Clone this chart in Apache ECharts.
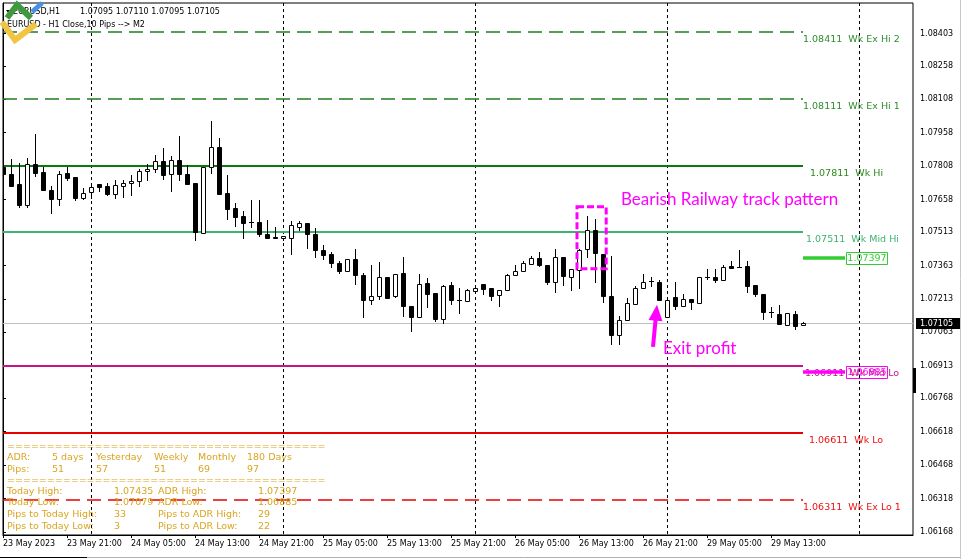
<!DOCTYPE html>
<html><head><meta charset="utf-8">
<script src="https://cdn.jsdelivr.net/npm/echarts@6/dist/echarts.min.js"></script>
<style>html,body{margin:0;padding:0;background:#fff}#c{width:962px;height:559px}</style>
</head><body><div id="c"></div>
<script>
// ---------- data ----------
const opens = [1.07806,1.07774,1.07729,1.07632,1.07818,1.07782,1.07702,1.07663,1.07778,1.07760,
1.07667,1.07692,1.07727,1.07718,1.07683,1.07718,1.07732,1.07741,1.07786,1.07795,
1.07830,1.07772,1.07835,1.07772,1.07732,1.07508,1.07804,1.07893,1.07687,1.07621,
1.07585,1.07557,1.07558,1.07505,1.07491,1.07484,1.07485,1.07537,1.07553,1.07505,
1.07433,1.07414,1.07375,1.07338,1.07391,1.07321,1.07208,1.07224,1.07311,1.07224,
1.07330,1.07181,1.07132,1.07285,1.07240,1.07123,1.07276,1.07208,1.07203,1.07249,
1.07279,1.07263,1.07230,1.07254,1.07320,1.07338,1.07369,1.07396,1.07366,1.07288,
1.07400,1.07309,1.07343,1.07438,1.07521,1.07414,1.07227,1.07051,1.07118,1.07191,
1.07260,1.07294,1.07288,1.07134,1.07221,1.07183,1.07213,1.07194,1.07309,1.07311,
1.07300,1.07361,1.07358,1.07360,1.07276,1.07236,1.07154,1.07146,1.07097,1.07146,
1.07095];
const closes = [1.07772,1.07721,1.07632,1.07818,1.07779,1.07703,1.07663,1.07774,1.07757,1.07666,
1.07688,1.07714,1.07715,1.07685,1.07723,1.07732,1.07742,1.07786,1.07795,1.07830,
1.07770,1.07835,1.07772,1.07730,1.07511,1.07804,1.07893,1.07685,1.07618,1.07578,
1.07555,1.07557,1.07502,1.07488,1.07485,1.07496,1.07544,1.07553,1.07502,1.07434,
1.07412,1.07373,1.07336,1.07391,1.07318,1.07206,1.07226,1.07311,1.07219,1.07324,
1.07179,1.07130,1.07281,1.07237,1.07121,1.07272,1.07206,1.07208,1.07251,1.07263,
1.07257,1.07228,1.07251,1.07320,1.07338,1.07375,1.07396,1.07365,1.07287,1.07400,
1.07317,1.07347,1.07433,1.07521,1.07418,1.07224,1.07049,1.07118,1.07194,1.07261,
1.07290,1.07294,1.07206,1.07209,1.07182,1.07213,1.07200,1.07311,1.07309,1.07299,
1.07356,1.07352,1.07358,1.07272,1.07233,1.07155,1.07154,1.07102,1.07148,1.07091,
1.07105];
const lows = [1.07690,1.07721,1.07623,1.07623,1.07766,1.07703,1.07596,1.07636,1.07747,1.07658,
1.07663,1.07666,1.07697,1.07681,1.07667,1.07672,1.07681,1.07720,1.07747,1.07784,
1.07751,1.07699,1.07744,1.07726,1.07475,1.07508,1.07779,1.07685,1.07573,1.07542,
1.07488,1.07535,1.07494,1.07488,1.07485,1.07478,1.07416,1.07520,1.07443,1.07403,
1.07394,1.07354,1.07329,1.07338,1.07279,1.07134,1.07192,1.07213,1.07219,1.07221,
1.07137,1.07067,1.07132,1.07175,1.07112,1.07107,1.07188,1.07149,1.07203,1.07245,
1.07235,1.07209,1.07182,1.07251,1.07320,1.07338,1.07369,1.07361,1.07279,1.07246,
1.07276,1.07254,1.07260,1.07399,1.07288,1.07197,1.07012,1.07012,1.07118,1.07191,
1.07260,1.07269,1.07206,1.07133,1.07167,1.07183,1.07167,1.07194,1.07302,1.07291,
1.07300,1.07352,1.07358,1.07242,1.07228,1.07125,1.07130,1.07102,1.07097,1.07079,
1.07095];
const highs = [1.07814,1.07841,1.07824,1.07844,1.07953,1.07804,1.07720,1.07787,1.07806,1.07760,
1.07709,1.07729,1.07727,1.07732,1.07747,1.07745,1.07769,1.07796,1.07818,1.07859,
1.07889,1.07854,1.07944,1.07814,1.07732,1.07804,1.08011,1.07935,1.07769,1.07644,
1.07608,1.07657,1.07657,1.07567,1.07537,1.07496,1.07563,1.07563,1.07553,1.07530,
1.07455,1.07423,1.07385,1.07391,1.07438,1.07331,1.07366,1.07379,1.07311,1.07324,
1.07400,1.07181,1.07326,1.07306,1.07240,1.07276,1.07291,1.07260,1.07257,1.07263,
1.07279,1.07263,1.07251,1.07326,1.07367,1.07381,1.07406,1.07423,1.07366,1.07438,
1.07400,1.07347,1.07438,1.07585,1.07571,1.07414,1.07406,1.07137,1.07219,1.07269,
1.07326,1.07311,1.07299,1.07209,1.07290,1.07236,1.07213,1.07311,1.07349,1.07347,
1.07363,1.07384,1.07433,1.07384,1.07276,1.07236,1.07176,1.07187,1.07148,1.07157,
1.07110];

const xTickIdx = [0,8,16,24,32,40,48,56,64,72,80,88,96];
const xTickLabels = ['23 May 2023','23 May 21:00','24 May 05:00','24 May 13:00','24 May 21:00','25 May 05:00',
  '25 May 13:00','25 May 21:00','26 May 05:00','26 May 13:00','26 May 21:00','29 May 05:00','29 May 13:00'];
const yTickValues = [1.08403,1.08258,1.08108,1.07958,1.07808,1.07658,1.07513,1.07363,1.07213,1.07063,
  1.06913,1.06768,1.06618,1.06468,1.06318,1.06168];
const daySeparators = [11,35,59,83,107];

const levelValues = [1.08411,1.08111,1.07811,1.07511,1.06911,1.06611,1.06311];
const levelNames = ['Wk Ex Hi 2','Wk Ex Hi 1','Wk Hi','Wk Mid Hi','Wk Mid Lo','Wk Lo','Wk Ex Lo 1'];
const adrValues = [1.07397,1.06885];
const currentPrice = 1.07105;
const axisMarker = [1.06904,1.06792];

const railBox = [71.75,1.07626,75.4,1.07348];
const railText = [77.25,1.07657];
const exitArrow = [81.25,1.06998,81.75,1.07187];
const exitText = [82.5,1.06990];

const headerLine1 = ['EURUSD,H1','1.07095 1.07110 1.07095 1.07105'];
const headerLine2 = 'EURUSD - H1 Close,10 Pips --> M2';
const panelRowsA = [
  ['ADR:','5 days','Yesterday','Weekly','Monthly','180 Days'],
  ['Pips:','51','57','51','69','97']];
const panelRowsB = [
  ['Today High:','1.07435','ADR High:','1.07397'],
  ['Today Low:','1.07079','ADR Low:','1.06885'],
  ['Pips to Today High:','33','Pips to ADR High:','29'],
  ['Pips to Today Low:','3','Pips to ADR Low:','22']];

// ---------- styles ----------
const X_MIN = 0, X_MAX = 113.75, Y_MIN = 1.061545, Y_MAX = 1.085397;
const LAST = opens.length - 1;
const levelStyles = [
  {color:'#1f7f1f',width:1.5,dash:[14,7],text:'#2e8b2e',dx:0},
  {color:'#1f7f1f',width:1.5,dash:[14,7],text:'#2e8b2e',dx:0},
  {color:'#0b7a0b',width:2,dash:null,text:'#2a8a1a',dx:7},
  {color:'#3cb371',width:2,dash:null,text:'#3cb371',dx:3},
  {color:'#c71585',width:2,dash:null,text:'#c71585',dx:2},
  {color:'#e60000',width:2,dash:null,text:'#f01010',dx:6},
  {color:'#e60000',width:1.5,dash:[14,7],text:'#f01010',dx:0}];
const adrStyles = [{color:'#32cd32'},{color:'#ff00ff'}];
const F8 = '8px "DejaVu Sans"';
const F95 = '9.5px "DejaVu Sans"';
const PINK = '#ff00ff';
const GOLD = '#daa520';

const chart = echarts.init(document.getElementById('c'), null, {renderer:'canvas'});

const graphics = [];
// window frame
graphics.push({type:'line',shape:{x1:960.5,y1:0,x2:960.5,y2:559},style:{stroke:'#c8c8c8',lineWidth:1},z:100});
graphics.push({type:'line',shape:{x1:0,y1:557.5,x2:87,y2:557.5},style:{stroke:'#000',lineWidth:1},z:100});
graphics.push({type:'line',shape:{x1:87,y1:557.5,x2:960,y2:557.5},style:{stroke:'#b0b0b0',lineWidth:1},z:100});
// header
graphics.push({type:'polygon',shape:{points:[[6,10],[12,10],[9,14]]},style:{fill:'#000'},z:100});
graphics.push({type:'text',x:13,y:12,style:{text:headerLine1[0],font:F8,fill:'#000',verticalAlign:'middle'},z:100});
graphics.push({type:'text',x:80,y:12,style:{text:headerLine1[1],font:F8,fill:'#000',verticalAlign:'middle'},z:100});
graphics.push({type:'text',x:7,y:25,style:{text:headerLine2,font:F8,fill:'#000',verticalAlign:'middle'},z:100});
// logo
graphics.push({type:'polyline',shape:{points:[[2,22],[15,40],[36,24]]},style:{stroke:'#f2c443',lineWidth:6,fill:null,lineJoin:'miter'},z:101});
graphics.push({type:'polyline',shape:{points:[[7,18],[17,5],[31,18]]},style:{stroke:'#3f9a3f',lineWidth:6,fill:null,lineJoin:'miter'},z:101});
graphics.push({type:'line',shape:{x1:32,y1:12,x2:42,y2:3},style:{stroke:'#4a90e2',lineWidth:5},z:101});
// info panel
const eq = '='.repeat(40);
graphics.push({type:'text',x:7,y:447,style:{text:eq,font:F95,fill:GOLD,verticalAlign:'middle'},z:100});
graphics.push({type:'text',x:7,y:481,style:{text:eq,font:F95,fill:GOLD,verticalAlign:'middle'},z:100});
const colA = [7,52,96,154,198,247], rowA = [458,470];
panelRowsA.forEach((r,ri)=>r.forEach((t,ci)=>graphics.push({type:'text',x:colA[ci],y:rowA[ri],
  style:{text:t,font:F95,fill:GOLD,verticalAlign:'middle'},z:100})));
const colB = [7,114,158,258], rowB = [492,503,515,527];
panelRowsB.forEach((r,ri)=>r.forEach((t,ci)=>graphics.push({type:'text',x:colB[ci],y:rowB[ri],
  style:{text:t,font:F95,fill:GOLD,verticalAlign:'middle'},z:100})));

const option = {
  animation:false,
  backgroundColor:'#fff',
  grid:{left:3,right:49,top:3,bottom:24,show:true,borderColor:'#000',borderWidth:1,backgroundColor:'transparent'},
  xAxis:{type:'value',min:X_MIN,max:X_MAX,splitLine:{show:false},
    axisLine:{show:true,lineStyle:{color:'#000',width:1}},
    axisTick:{show:true,inside:false,length:3,customValues:xTickIdx,lineStyle:{color:'#000'}},
    axisLabel:{show:true,customValues:xTickIdx,margin:5,align:'left',fontFamily:'DejaVu Sans',fontSize:8,color:'#000',
      formatter:v=>{const k=xTickIdx.indexOf(Math.round(v));return k>=0?xTickLabels[k]:'';}}},
  yAxis:{type:'value',position:'right',min:Y_MIN,max:Y_MAX,scale:true,splitLine:{show:false},
    axisLine:{show:true,lineStyle:{color:'#000',width:1}},
    axisTick:{show:true,inside:false,length:3,customValues:yTickValues,lineStyle:{color:'#000'}},
    axisLabel:{show:true,customValues:yTickValues,margin:7,fontFamily:'DejaVu Sans',fontSize:8,color:'#000',
      formatter:v=>v.toFixed(5)}},
  graphic:graphics,
  series:[
    // day separators
    {type:'custom',name:'sep',clip:true,silent:true,z:1,
     data:daySeparators.map(d=>[d,Y_MIN]),encode:{x:0,y:1},
     renderItem:(p,api)=>{const a=api.coord([api.value(0),Y_MAX]),b=api.coord([api.value(0),Y_MIN]);
       const x=Math.round(a[0])+0.5;
       return {type:'line',shape:{x1:x,y1:a[1],x2:x,y2:b[1]},style:{stroke:'#000',lineWidth:1,lineDash:[3,3]}};}},
    // current price line
    {type:'custom',name:'bid',clip:false,silent:true,z:2,
     data:[[X_MAX,currentPrice]],encode:{x:0,y:1},
     renderItem:(p,api)=>{const a=api.coord([X_MIN,api.value(1)]),b=api.coord([X_MAX,api.value(1)]);
       const y=Math.round(a[1])+0.5;
       return {type:'line',shape:{x1:a[0],y1:y,x2:b[0],y2:y},style:{stroke:'#c0c0c0',lineWidth:1}};}},
    // weekly levels
    {type:'custom',name:'levels',clip:false,silent:true,z:3,
     data:levelValues.map((v,k)=>[LAST,v,k]),encode:{x:0,y:1},
     renderItem:(p,api)=>{const v=api.value(1),k=api.value(2),st=levelStyles[k];
       const a=api.coord([X_MIN,v]),b=api.coord([api.value(0),v]);
       const y=Math.round(a[1]);
       return {type:'group',children:[
         {type:'line',shape:{x1:a[0],y1:y,x2:b[0],y2:y},style:{stroke:st.color,lineWidth:st.width,lineDash:st.dash}},
         {type:'text',x:b[0]+st.dx,y:y+7.5,style:{text:v.toFixed(5)+'  '+levelNames[k],fill:st.text,font:F95,verticalAlign:'middle',align:'left'}}]};}},
    // candles
    {type:'custom',name:'EURUSD,H1',clip:true,z:5,
     data:opens.map((o,i)=>[i,o,closes[i],lows[i],highs[i]]),encode:{x:0,y:[1,2,3,4]},
     renderItem:(p,api)=>{const i=api.value(0),o=api.value(1),c=api.value(2),l=api.value(3),h=api.value(4);
       const po=api.coord([i,o]),pc=api.coord([i,c]),pl=api.coord([i,l]),ph=api.coord([i,h]);
       const x=Math.round(po[0]);
       const yt=Math.round(Math.min(po[1],pc[1])),yb=Math.round(Math.max(po[1],pc[1]));
       const ch=[{type:'line',shape:{x1:x+0.5,y1:Math.round(ph[1]),x2:x+0.5,y2:Math.round(pl[1])+1},style:{stroke:'#000',lineWidth:1}}];
       if(yb-yt<1) ch.push({type:'line',shape:{x1:x-2,y1:yt+0.5,x2:x+3,y2:yt+0.5},style:{stroke:'#000',lineWidth:1}});
       else ch.push({type:'rect',shape:{x:x-1.5,y:yt+0.5,width:4,height:yb-yt},style:{fill:c>o?'#fff':'#000',stroke:'#000',lineWidth:1}});
       return {type:'group',children:ch};}},
    // ADR high/low markers
    {type:'custom',name:'adr',clip:false,silent:true,z:6,
     data:adrValues.map((v,k)=>[LAST,v,k]),encode:{x:0,y:1},
     renderItem:(p,api)=>{const v=api.value(1),k=api.value(2),col=adrStyles[k].color;
       const b=api.coord([api.value(0),v]);const y=Math.round(b[1]);const x=Math.round(b[0]);
       return {type:'group',children:[
         {type:'line',shape:{x1:x,y1:y,x2:x+42,y2:y},style:{stroke:col,lineWidth:3.5}},
         {type:'rect',shape:{x:x+43.5,y:y-5.5,width:41,height:12},style:{fill:'rgba(255,255,255,0)',stroke:col,lineWidth:1}},
         {type:'text',x:x+64,y:y+0.5,style:{text:v.toFixed(5),fill:col,font:F95,align:'center',verticalAlign:'middle'}}]};}},
    // price axis markers
    {type:'custom',name:'pricebox',clip:false,silent:true,z:10,
     data:[[X_MAX,currentPrice]],encode:{x:0,y:1},
     renderItem:(p,api)=>{const b=api.coord([X_MAX,api.value(1)]);const y=Math.round(b[1]);const x=Math.round(b[0]);
       const m1=api.coord([X_MAX,axisMarker[0]]),m2=api.coord([X_MAX,axisMarker[1]]);
       return {type:'group',children:[
         {type:'rect',shape:{x:x,y:Math.round(m1[1]),width:3,height:Math.round(m2[1]-m1[1])},style:{fill:'#000'}},
         {type:'rect',shape:{x:x+3,y:y-5,width:45,height:11},style:{fill:'#000'}},
         {type:'text',x:x+7,y:y+0.5,style:{text:api.value(1).toFixed(5),fill:'#fff',font:F8,verticalAlign:'middle'}}]};}},
    // annotations
    {type:'custom',name:'notes',clip:false,silent:true,z:8,
     data:[[railBox[0],railBox[1]]],encode:{x:0,y:1},
     renderItem:(p,api)=>{
       const r1=api.coord([railBox[0],railBox[1]]),r2=api.coord([railBox[2],railBox[3]]);
       const t1=api.coord(railText),t2=api.coord(exitText);
       const a0=api.coord([exitArrow[0],exitArrow[1]]),a1=api.coord([exitArrow[2],exitArrow[3]]);
       let dx=a1[0]-a0[0],dy=a1[1]-a0[1];const L=Math.hypot(dx,dy);dx/=L;dy/=L;
       const hl=16,hw=7;const bx=a1[0]-dx*hl,by=a1[1]-dy*hl;const nx=-dy,ny=dx;
       return {type:'group',children:[
         {type:'rect',shape:{x:r1[0],y:r1[1],width:r2[0]-r1[0],height:r2[1]-r1[1]},style:{fill:null,stroke:PINK,lineWidth:3,lineDash:[7,3]}},
         {type:'text',x:t1[0],y:t1[1],style:{text:'Bearish Railway track pattern',fill:PINK,font:'17px Lato',verticalAlign:'middle'}},
         {type:'line',shape:{x1:a0[0],y1:a0[1],x2:bx+dx*2,y2:by+dy*2},style:{stroke:PINK,lineWidth:4}},
         {type:'polygon',shape:{points:[[a1[0],a1[1]],[bx+nx*hw,by+ny*hw],[bx-nx*hw,by-ny*hw]]},style:{fill:PINK}},
         {type:'text',x:t2[0],y:t2[1],style:{text:'Exit profit',fill:PINK,font:'17px Lato',verticalAlign:'middle'}}]};}}
  ]
};
chart.setOption(option);
</script></body></html>
